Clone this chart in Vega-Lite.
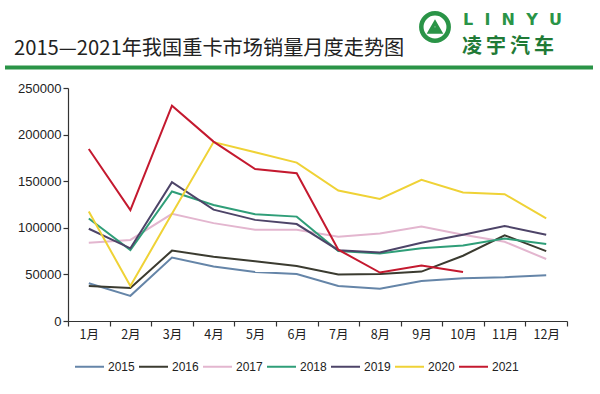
{
  "$schema": "https://vega.github.io/schema/vega-lite/v6.json",
  "autosize": {"type": "none"},
  "padding": {"left": 68, "top": 88, "right": 33, "bottom": 73},
  "width": 499,
  "height": 233,
  "background": "white",
  "config": {
    "view": {"stroke": null},
    "axis": {"grid": false, "domainColor": "#333333", "tickColor": "#333333", "labelColor": "#222222"}
  },
  "datasets": {
    "sales": [
      {"year": "2015", "month": "1月", "sales": 40500},
      {"year": "2015", "month": "2月", "sales": 27000},
      {"year": "2015", "month": "3月", "sales": 68000},
      {"year": "2015", "month": "4月", "sales": 58500},
      {"year": "2015", "month": "5月", "sales": 52500},
      {"year": "2015", "month": "6月", "sales": 50500},
      {"year": "2015", "month": "7月", "sales": 37500},
      {"year": "2015", "month": "8月", "sales": 34500},
      {"year": "2015", "month": "9月", "sales": 43000},
      {"year": "2015", "month": "10月", "sales": 46000},
      {"year": "2015", "month": "11月", "sales": 47000},
      {"year": "2015", "month": "12月", "sales": 49000},
      {"year": "2016", "month": "1月", "sales": 37500},
      {"year": "2016", "month": "2月", "sales": 35500},
      {"year": "2016", "month": "3月", "sales": 75500},
      {"year": "2016", "month": "4月", "sales": 69000},
      {"year": "2016", "month": "5月", "sales": 64000},
      {"year": "2016", "month": "6月", "sales": 59000},
      {"year": "2016", "month": "7月", "sales": 50000},
      {"year": "2016", "month": "8月", "sales": 50500},
      {"year": "2016", "month": "9月", "sales": 53000},
      {"year": "2016", "month": "10月", "sales": 70000},
      {"year": "2016", "month": "11月", "sales": 92000},
      {"year": "2016", "month": "12月", "sales": 75000},
      {"year": "2017", "month": "1月", "sales": 84000},
      {"year": "2017", "month": "2月", "sales": 87000},
      {"year": "2017", "month": "3月", "sales": 115000},
      {"year": "2017", "month": "4月", "sales": 105000},
      {"year": "2017", "month": "5月", "sales": 98000},
      {"year": "2017", "month": "6月", "sales": 98000},
      {"year": "2017", "month": "7月", "sales": 90500},
      {"year": "2017", "month": "8月", "sales": 94000},
      {"year": "2017", "month": "9月", "sales": 101500},
      {"year": "2017", "month": "10月", "sales": 92500},
      {"year": "2017", "month": "11月", "sales": 85000},
      {"year": "2017", "month": "12月", "sales": 66500},
      {"year": "2018", "month": "1月", "sales": 110000},
      {"year": "2018", "month": "2月", "sales": 76000},
      {"year": "2018", "month": "3月", "sales": 139000},
      {"year": "2018", "month": "4月", "sales": 124500},
      {"year": "2018", "month": "5月", "sales": 114500},
      {"year": "2018", "month": "6月", "sales": 112000},
      {"year": "2018", "month": "7月", "sales": 75000},
      {"year": "2018", "month": "8月", "sales": 72500},
      {"year": "2018", "month": "9月", "sales": 78000},
      {"year": "2018", "month": "10月", "sales": 81000},
      {"year": "2018", "month": "11月", "sales": 88500},
      {"year": "2018", "month": "12月", "sales": 82500},
      {"year": "2019", "month": "1月", "sales": 99000},
      {"year": "2019", "month": "2月", "sales": 78000},
      {"year": "2019", "month": "3月", "sales": 149000},
      {"year": "2019", "month": "4月", "sales": 119500},
      {"year": "2019", "month": "5月", "sales": 108500},
      {"year": "2019", "month": "6月", "sales": 104000},
      {"year": "2019", "month": "7月", "sales": 76000},
      {"year": "2019", "month": "8月", "sales": 73500},
      {"year": "2019", "month": "9月", "sales": 84000},
      {"year": "2019", "month": "10月", "sales": 92500},
      {"year": "2019", "month": "11月", "sales": 102000},
      {"year": "2019", "month": "12月", "sales": 92500},
      {"year": "2020", "month": "1月", "sales": 117500},
      {"year": "2020", "month": "2月", "sales": 37500},
      {"year": "2020", "month": "3月", "sales": 115000},
      {"year": "2020", "month": "4月", "sales": 192000},
      {"year": "2020", "month": "5月", "sales": 181000},
      {"year": "2020", "month": "6月", "sales": 170000},
      {"year": "2020", "month": "7月", "sales": 140000},
      {"year": "2020", "month": "8月", "sales": 131000},
      {"year": "2020", "month": "9月", "sales": 151500},
      {"year": "2020", "month": "10月", "sales": 138000},
      {"year": "2020", "month": "11月", "sales": 136000},
      {"year": "2020", "month": "12月", "sales": 110000},
      {"year": "2021", "month": "1月", "sales": 184500},
      {"year": "2021", "month": "2月", "sales": 119000},
      {"year": "2021", "month": "3月", "sales": 231000},
      {"year": "2021", "month": "4月", "sales": 192500},
      {"year": "2021", "month": "5月", "sales": 163000},
      {"year": "2021", "month": "6月", "sales": 158500},
      {"year": "2021", "month": "7月", "sales": 76500},
      {"year": "2021", "month": "8月", "sales": 52000},
      {"year": "2021", "month": "9月", "sales": 59500},
      {"year": "2021", "month": "10月", "sales": 52500}
    ],
    "header": [{"title": "2015—2021年我国重卡市场销量月度走势图", "brand": "L\u2002\u2009I\u2002\u2009N\u2002\u2009Y\u2002\u2009U", "cn": "凌\u2009宇\u2009汽\u2009车"}]
  },
  "layer": [
    {
      "data": {"name": "sales"},
      "mark": {"type": "line", "strokeJoin": "miter", "strokeCap": "butt"},
      "encoding": {
        "x": {
          "field": "month", "type": "ordinal",
          "sort": ["1月","2月","3月","4月","5月","6月","7月","8月","9月","10月","11月","12月"],
          "axis": {"title": null, "labelAngle": 0, "tickBand": "extent", "tickSize": 5, "labelPadding": 2,
                   "labelFont": "Noto Sans CJK SC", "labelFontSize": 12.5, "domainWidth": 1.2, "tickWidth": 1.2}
        },
        "y": {
          "field": "sales", "type": "quantitative",
          "scale": {"domain": [0, 250000], "nice": false},
          "axis": {"title": null, "values": [0, 50000, 100000, 150000, 200000, 250000], "format": "d",
                   "tickSize": 5, "labelPadding": 2, "labelFont": "Liberation Sans", "labelFontSize": 13,
                   "domainWidth": 1.2, "tickWidth": 1.2}
        },
        "color": {
          "field": "year", "type": "nominal",
          "scale": {"domain": ["2015","2016","2017","2018","2019","2020","2021"],
                    "range": ["#6585a8","#3b3b30","#e3b6cf","#2f9e78","#4d4468","#efd236","#c4192f"]},
          "legend": {
            "title": null, "orient": "none", "legendX": 6, "legendY": 263, "direction": "horizontal",
            "columns": 7, "symbolType": "stroke", "symbolSize": 841, "columnPadding": 0,
            "labelFont": "Liberation Sans", "labelFontSize": 12, "labelColor": "#222222", "labelOffset": 3
          }
        },
        "strokeWidth": {
          "field": "year", "type": "nominal",
          "scale": {"domain": ["2015","2016","2017","2018","2019","2020","2021"],
                    "range": [2, 2, 2, 2, 2, 3.6, 3.6]}
        }
      }
    },
    {
      "data": {"name": "header"},
      "mark": {"type": "text", "align": "left", "baseline": "alphabetic", "font": "Noto Sans CJK SC", "fontSize": 20.2, "color": "#222222"},
      "encoding": {"x": {"value": -54}, "y": {"value": -33}, "text": {"field": "title"}}
    },
    {
      "data": {"name": "header"},
      "mark": {"type": "rule", "color": "#2a9447", "strokeWidth": 4},
      "encoding": {"x": {"value": -63}, "x2": {"value": 525}, "y": {"value": -20.5}}
    },
    {
      "data": {"name": "header"},
      "mark": {"type": "point", "shape": "circle", "filled": false, "opacity": 1, "stroke": "#2a9447", "strokeWidth": 4.5, "size": 750},
      "encoding": {"x": {"value": 367}, "y": {"value": -61}}
    },
    {
      "data": {"name": "header"},
      "mark": {"type": "point", "shape": "M -0.75 0.55 L 0 -0.75 L 0.75 0.55 Z M -0.35 0.15 L 0.45 0.15", "filled": false, "opacity": 1, "stroke": "#2a9447", "strokeWidth": 3.5, "size": 200},
      "encoding": {"x": {"value": 367}, "y": {"value": -60}}
    },
    {
      "data": {"name": "header"},
      "mark": {"type": "text", "align": "left", "baseline": "alphabetic", "font": "DejaVu Sans", "fontWeight": "bold", "fontSize": 16, "color": "#2a9447"},
      "encoding": {"x": {"value": 395}, "y": {"value": -63.5}, "text": {"field": "brand"}}
    },
    {
      "data": {"name": "header"},
      "mark": {"type": "text", "align": "left", "baseline": "alphabetic", "font": "Noto Sans CJK SC", "fontWeight": "bold", "fontSize": 20, "color": "#1f7a36"},
      "encoding": {"x": {"value": 394}, "y": {"value": -35.5}, "text": {"field": "cn"}}
    }
  ]
}
